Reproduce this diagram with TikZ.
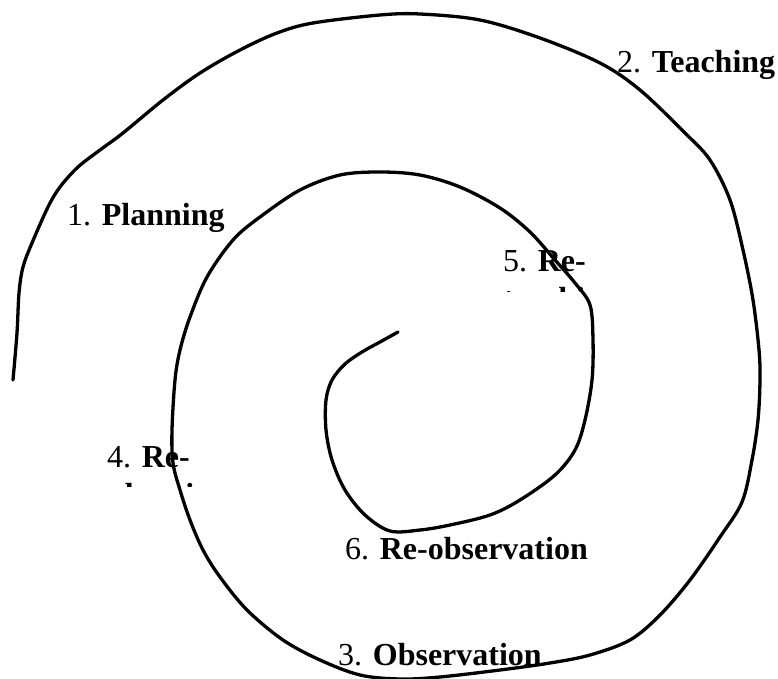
\documentclass[tikz,border=0pt]{standalone}
\usepackage{fontspec}
\setmainfont{Liberation Serif}
\newfontfamily\tnrfont{Liberation Serif}
\begin{document}
\begin{tikzpicture}[x=1pt,y=-1pt,
  lbl/.style={anchor=base west,inner sep=0pt,font=\tnrfont\fontsize{32}{37}\selectfont},
  spiral/.style={line width=3.3pt,line cap=round,line join=round}]
\useasboundingbox (0,0) rectangle (778,679);
\draw[spiral] plot[smooth,tension=0.55] coordinates {
 (398,332) (380,342) (362,352) (345,364) (332,380) (326,400) (326,430)
 (332,460) (345,490) (365,515) (390,531) (420,530) (450,525) (490,515)
 (520,500) (555,475) (575,450) (585,420) (592,380) (593,340) (590,305)
 (575,283) (555,260) (530,232) (500,208) (460,187) (420,175) (380,172)
 (340,175) (300,190) (260,217) (233,240) (207,277) (190,317) (180,350)
 (175,380) (172,430) (173,463) (180,490) (190,520) (203,550) (220,577)
 (247,610) (283,640) (320,660) (360,675) (400,679) (440,677) (500,670)
 (550,663) (590,655) (630,640) (660,615) (690,580) (720,537) (742,502)
 (752,460) (758,420) (760,380) (759,350) (753,300) (743,250) (730,200)
 (710,160) (685,133) (640,90) (600,63) (540,38) (480,20) (420,14)
 (380,15) (313,23) (277,33) (240,50) (200,73) (163,100) (123,133)
 (100,150) (78,167) (60,187) (48,207) (32,243) (23,267) (19,293)
 (17,333) (13,380)};
\node[lbl] (l1) at (67,225) {1. \textbf{Planning}};
\node[lbl] (l2) at (617,73) {2. \textbf{Teaching}};
\node[lbl] (l3) at (338,665) {3. \textbf{Observation}};
\node[lbl] (l4) at (107,467) {4. \textbf{Re-}};
\node[lbl] (l5) at (503,271) {5. \textbf{Re-}};
\node[lbl] (l6) at (345,559) {6. \textbf{Re-observation}};
\begin{scope}
\clip (90,480) rectangle (230,486);
\node[lbl] (l4b) at (107,505) {\textbf{planning}};
\end{scope}
\begin{scope}
\clip (490,285) rectangle (620,291);
\node[lbl] (l5b) at (503,309) {\textbf{teaching}};
\end{scope}
\end{tikzpicture}
\end{document}
